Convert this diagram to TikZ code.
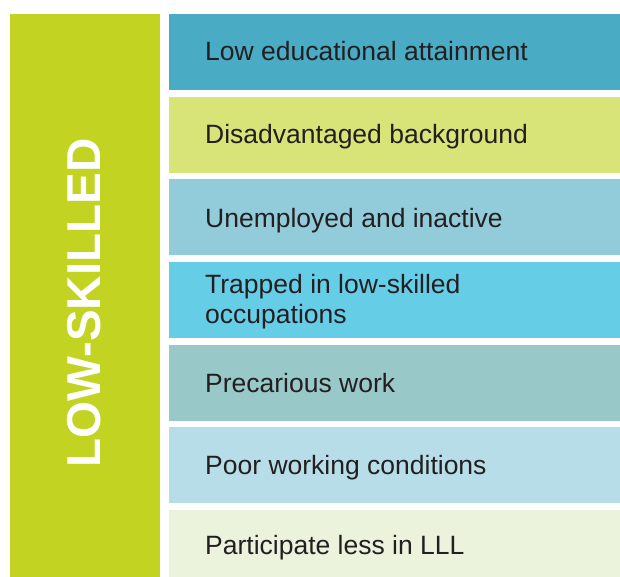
\documentclass[tikz,border=0pt]{standalone}
\usepackage{fontspec}
\setmainfont{Liberation Sans}
\definecolor{barc}{HTML}{C2D322}
\definecolor{txt}{HTML}{231F20}
\definecolor{rA}{HTML}{4AABC5}
\definecolor{rB}{HTML}{D8E378}
\definecolor{rC}{HTML}{92CCDB}
\definecolor{rD}{HTML}{66CDE7}
\definecolor{rE}{HTML}{98C9C8}
\definecolor{rF}{HTML}{B7DEE8}
\definecolor{rG}{HTML}{EBF3DD}
\begin{document}
\begin{tikzpicture}[x=1pt,y=-1pt,
  rowbox/.style={fill=#1,draw=none},
  rowtext/.style={anchor=base west,text=txt,font=\fontsize{26.5}{30}\selectfont,inner sep=0pt}]
\useasboundingbox (0,0) rectangle (620,577);
\fill[white] (0,0) rectangle (620,577);
% left bar
\fill[barc] (10,14) rectangle (160,577);
\node[rotate=90,text=white,font=\fontsize{47.5}{50}\bfseries\selectfont,inner sep=0pt,text height=34pt,text depth=0pt] (lbl) at (83,303) {LOW-SKILLED};
% rows
\fill[rA] (169,14) rectangle (620,90);
\fill[rB] (169,96.7) rectangle (620,172.7);
\fill[rC] (169,179.3) rectangle (620,255.3);
\fill[rD] (169,262) rectangle (620,338);
\fill[rE] (169,344.7) rectangle (620,420.7);
\fill[rF] (169,427.3) rectangle (620,503.3);
\fill[rG] (169,510) rectangle (620,577);
\node[rowtext] (t1) at (205,61) {Low educational attainment};
\node[rowtext] (t2) at (205,144) {Disadvantaged background};
\node[rowtext] (t3) at (205,227) {Unemployed and inactive};
\node[rowtext] (t4a) at (205,293) {Trapped in low-skilled};
\node[rowtext] (t4b) at (205,323) {occupations};
\node[rowtext] (t5) at (205,392) {Precarious work};
\node[rowtext] (t6) at (205,474) {Poor working conditions};
\node[rowtext] (t7) at (205,554) {Participate less in LLL};
\end{tikzpicture}
\end{document}
